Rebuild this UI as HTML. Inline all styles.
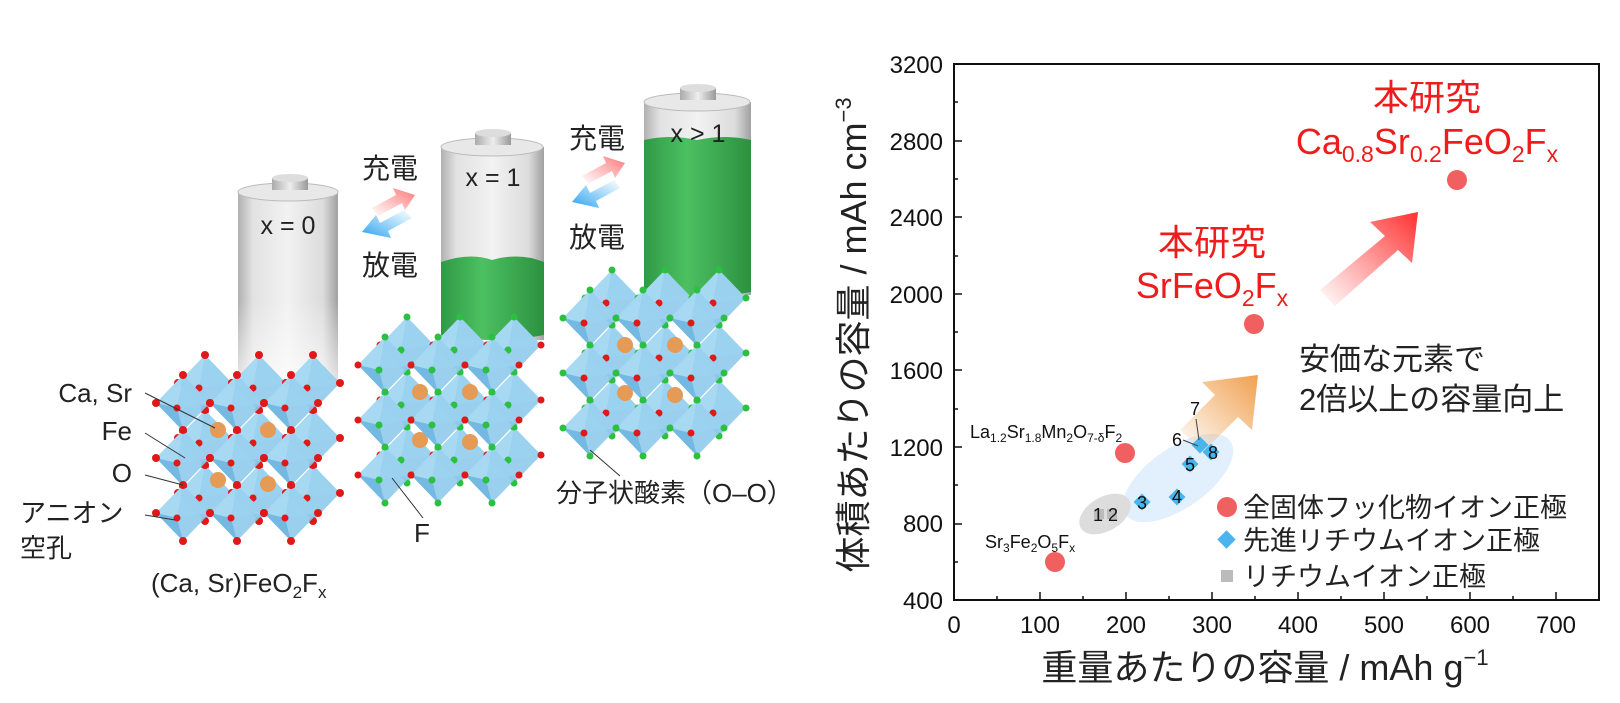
<!DOCTYPE html>
<html><head><meta charset="utf-8">
<style>
body{margin:0;background:#fff;}
svg{display:block;}
text{font-family:"Liberation Sans","Noto Sans CJK JP",sans-serif;}
</style></head>
<body>
<svg width="1620" height="703" viewBox="0 0 1620 703" xmlns="http://www.w3.org/2000/svg">
<defs>
<linearGradient id="bat" x1="0" x2="1" y1="0" y2="0">
<stop offset="0" stop-color="#b0b0b0"/><stop offset="0.15" stop-color="#e2e2e2"/><stop offset="0.5" stop-color="#f2f2f2"/><stop offset="0.85" stop-color="#dcdcdc"/><stop offset="1" stop-color="#a0a0a0"/>
</linearGradient>
<linearGradient id="batfade" x1="0" x2="0" y1="0" y2="1">
<stop offset="0" stop-color="#fff" stop-opacity="0"/><stop offset="1" stop-color="#fff" stop-opacity="0.7"/>
</linearGradient>
<linearGradient id="grn" x1="0" x2="1" y1="0" y2="0">
<stop offset="0" stop-color="#2f9a45"/><stop offset="0.4" stop-color="#4cc061"/><stop offset="1" stop-color="#2c9140"/>
</linearGradient>
<linearGradient id="capg" x1="0" x2="1"><stop offset="0" stop-color="#aaa"/><stop offset="0.5" stop-color="#eee"/><stop offset="1" stop-color="#999"/></linearGradient>
<linearGradient id="redA" x1="0" y1="1" x2="1" y2="0"><stop offset="0" stop-color="#ff4040" stop-opacity="0"/><stop offset="1" stop-color="#ff3030"/></linearGradient>
<linearGradient id="oraA" x1="1" y1="0" x2="0" y2="1"><stop offset="0" stop-color="#f0a050"/><stop offset="1" stop-color="#f0a050" stop-opacity="0"/></linearGradient>
<linearGradient id="pinkA" x1="0" y1="1" x2="1" y2="0"><stop offset="0" stop-color="#ff8080" stop-opacity="0"/><stop offset="1" stop-color="#f77"/></linearGradient>
<linearGradient id="blueA" x1="1" y1="0" x2="0" y2="1"><stop offset="0" stop-color="#3ab0f0" stop-opacity="0"/><stop offset="1" stop-color="#2aa0f0"/></linearGradient>
<g id="oct">
<polygon points="0,-28 27,0 0,28 -27,0" fill="#8fcbec" opacity="0.9"/>
<polygon points="0,-28 -6,5 -27,0" fill="#a9d9f3" opacity="0.9"/>
<polygon points="-6,5 0,28 -27,0" fill="#6fb6e0" opacity="0.9"/>
<polygon points="0,-28 27,0 -6,5" fill="#9bd1ef" opacity="0.9"/>
</g>
<g id="dR"><circle cx="0" cy="-28" r="4" fill="#e01818"/><circle cx="27" cy="0" r="4" fill="#e01818"/><circle cx="0" cy="28" r="4" fill="#e01818"/><circle cx="-27" cy="0" r="4" fill="#e01818"/><circle cx="-6" cy="5" r="3.5" fill="#e01818"/></g>
<g id="dG"><circle cx="0" cy="-28" r="3.5" fill="#2bc040"/><circle cx="27" cy="0" r="3.5" fill="#e01818"/><circle cx="0" cy="28" r="3.5" fill="#2bc040"/><circle cx="-27" cy="0" r="3.5" fill="#e01818"/><circle cx="-6" cy="5" r="3.5" fill="#2bc040"/></g>
<g id="dGG"><circle cx="0" cy="-28" r="3.5" fill="#2bc040"/><circle cx="27" cy="0" r="3.5" fill="#2bc040"/><circle cx="0" cy="28" r="3.5" fill="#2bc040"/><circle cx="-27" cy="0" r="3.5" fill="#2bc040"/><circle cx="-6" cy="5" r="3.5" fill="#e01818"/></g>
<g id="cR"><use href="#oct"/><use href="#dR"/></g>
<g id="cG"><use href="#oct"/><use href="#dG"/></g>
<g id="cGG"><use href="#oct"/><use href="#dGG"/></g>
</defs>

<!-- Battery 1 -->
<g>
<rect x="238" y="192" width="100" height="188" fill="url(#bat)"/>
<rect x="238" y="300" width="100" height="82" fill="url(#batfade)"/>
<ellipse cx="288" cy="192" rx="50" ry="9" fill="#e8e8e8" stroke="#bbb"/>
<rect x="272" y="178" width="36" height="12" fill="url(#capg)"/>
<ellipse cx="290" cy="178" rx="18" ry="4" fill="#ddd"/>
<text x="288" y="234" font-size="25" text-anchor="middle" fill="#222">x = 0</text>
</g>
<!-- Battery 2 -->
<g>
<rect x="441" y="147" width="103" height="193" fill="url(#bat)"/>
<path d="M441 262 Q470 252 492 260 Q520 252 544 262 L544 335 Q492 345 441 335Z" fill="url(#grn)"/>
<ellipse cx="492" cy="147" rx="51" ry="9" fill="#e8e8e8" stroke="#bbb"/>
<rect x="475" y="133" width="36" height="12" fill="url(#capg)"/>
<ellipse cx="493" cy="133" rx="18" ry="4" fill="#ddd"/>
<text x="493" y="186" font-size="25" text-anchor="middle" fill="#222">x = 1</text>
</g>
<!-- Battery 3 -->
<g>
<rect x="644" y="102" width="107" height="193" fill="url(#bat)"/>
<path d="M644 140 Q670 134 697 140 Q725 134 751 140 L751 292 Q697 302 644 292Z" fill="url(#grn)"/>
<ellipse cx="697" cy="102" rx="53" ry="9" fill="#e8e8e8" stroke="#bbb"/>
<rect x="680" y="88" width="36" height="12" fill="url(#capg)"/>
<ellipse cx="698" cy="88" rx="18" ry="4" fill="#ddd"/>
<text x="698" y="142" font-size="25" text-anchor="middle" fill="#222">x &gt; 1</text>
</g>

<!-- charge/discharge arrows -->
<g font-size="28" fill="#222">
<text x="362" y="178">充電</text>
<text x="362" y="275">放電</text>
<text x="569" y="148">充電</text>
<text x="569" y="247">放電</text>
</g>
<polygon points="372,208 396,195 393,188 415,195 405,210 402,203 378,216" fill="url(#pinkA)"/>
<polygon points="412,218 388,231 391,238 362,232 376,215 380,223 404,210" fill="url(#blueA)"/>
<polygon points="582,176 606,163 603,156 625,163 615,178 612,171 588,184" fill="url(#pinkA)"/>
<polygon points="620,188 596,201 599,208 572,202 586,185 590,193 614,180" fill="url(#blueA)"/>

<!-- Crystal 1 -->
<g>
<use href="#cR" x="205" y="383"/><use href="#cR" x="259" y="383"/><use href="#cR" x="313" y="383"/>
<use href="#cR" x="205" y="438"/><use href="#cR" x="259" y="438"/><use href="#cR" x="313" y="438"/>
<use href="#cR" x="205" y="493"/><use href="#cR" x="259" y="493"/><use href="#cR" x="313" y="493"/>
<circle cx="218" cy="430" r="8" fill="#e59a55"/><circle cx="268" cy="430" r="8" fill="#e59a55"/>
<circle cx="218" cy="480" r="8" fill="#e59a55"/><circle cx="268" cy="484" r="8" fill="#e59a55"/>
<use href="#cR" x="183" y="403"/><use href="#cR" x="237" y="403"/><use href="#cR" x="291" y="403"/>
<use href="#cR" x="183" y="458"/><use href="#cR" x="237" y="458"/><use href="#cR" x="291" y="458"/>
<use href="#cR" x="183" y="513"/><use href="#cR" x="237" y="513"/><use href="#cR" x="291" y="513"/>
</g>
<!-- Crystal 2 -->
<g>
<use href="#cG" x="407" y="345"/><use href="#cG" x="460" y="345"/><use href="#cG" x="514" y="345"/>
<use href="#cG" x="407" y="400"/><use href="#cG" x="460" y="400"/><use href="#cG" x="514" y="400"/>
<use href="#cG" x="407" y="455"/><use href="#cG" x="460" y="455"/><use href="#cG" x="514" y="455"/>
<circle cx="420" cy="392" r="8" fill="#e59a55"/><circle cx="470" cy="392" r="8" fill="#e59a55"/>
<circle cx="420" cy="440" r="8" fill="#e59a55"/><circle cx="470" cy="442" r="8" fill="#e59a55"/>
<use href="#cG" x="385" y="365"/><use href="#cG" x="438" y="365"/><use href="#cG" x="492" y="365"/>
<use href="#cG" x="385" y="420"/><use href="#cG" x="438" y="420"/><use href="#cG" x="492" y="420"/>
<use href="#cG" x="385" y="475"/><use href="#cG" x="438" y="475"/><use href="#cG" x="492" y="475"/>
</g>
<!-- Crystal 3 -->
<g>
<use href="#cGG" x="612" y="298"/><use href="#cGG" x="665" y="298"/><use href="#cGG" x="719" y="298"/>
<use href="#cGG" x="612" y="353"/><use href="#cGG" x="665" y="353"/><use href="#cGG" x="719" y="353"/>
<use href="#cGG" x="612" y="408"/><use href="#cGG" x="665" y="408"/><use href="#cGG" x="719" y="408"/>
<circle cx="625" cy="345" r="8" fill="#e59a55"/><circle cx="675" cy="345" r="8" fill="#e59a55"/>
<circle cx="625" cy="393" r="8" fill="#e59a55"/><circle cx="675" cy="395" r="8" fill="#e59a55"/>
<use href="#cGG" x="590" y="318"/><use href="#cGG" x="643" y="318"/><use href="#cGG" x="697" y="318"/>
<use href="#cGG" x="590" y="373"/><use href="#cGG" x="643" y="373"/><use href="#cGG" x="697" y="373"/>
<use href="#cGG" x="590" y="428"/><use href="#cGG" x="643" y="428"/><use href="#cGG" x="697" y="428"/>
</g>

<!-- left labels -->
<g font-size="26" fill="#222">
<text x="132" y="402" text-anchor="end">Ca, Sr</text>
<text x="132" y="440" text-anchor="end">Fe</text>
<text x="132" y="482" text-anchor="end">O</text>
<text x="20" y="522">アニオン</text>
<text x="20" y="557">空孔</text>
<text x="151" y="592">(Ca, Sr)FeO<tspan font-size="17" dy="6">2</tspan><tspan dy="-6">F</tspan><tspan font-size="17" dy="6">x</tspan></text>
<text x="414" y="542">F</text>
<text x="556" y="502">分子状酸素（O–O）</text>
</g>
<g stroke="#333" stroke-width="1" fill="none">
<line x1="145" y1="393" x2="215" y2="428"/>
<line x1="145" y1="433" x2="185" y2="458"/>
<line x1="145" y1="475" x2="183" y2="485"/>
<line x1="145" y1="515" x2="175" y2="520"/>
<line x1="423" y1="518" x2="392" y2="478"/>
<line x1="620" y1="476" x2="590" y2="450"/>
</g>

<!-- Chart -->
<rect x="954" y="64" width="645" height="536" fill="none" stroke="#111" stroke-width="2"/>
<g stroke="#111" stroke-width="1.5">
<line x1="1040" y1="600" x2="1040" y2="592"/><line x1="1126" y1="600" x2="1126" y2="592"/><line x1="1212" y1="600" x2="1212" y2="592"/><line x1="1298" y1="600" x2="1298" y2="592"/><line x1="1384" y1="600" x2="1384" y2="592"/><line x1="1470" y1="600" x2="1470" y2="592"/><line x1="1556" y1="600" x2="1556" y2="592"/>
<line x1="997" y1="600" x2="997" y2="596"/><line x1="1083" y1="600" x2="1083" y2="596"/><line x1="1169" y1="600" x2="1169" y2="596"/><line x1="1255" y1="600" x2="1255" y2="596"/><line x1="1341" y1="600" x2="1341" y2="596"/><line x1="1427" y1="600" x2="1427" y2="596"/><line x1="1513" y1="600" x2="1513" y2="596"/>
<line x1="954" y1="524" x2="962" y2="524"/><line x1="954" y1="447" x2="962" y2="447"/><line x1="954" y1="370" x2="962" y2="370"/><line x1="954" y1="294" x2="962" y2="294"/><line x1="954" y1="217" x2="962" y2="217"/><line x1="954" y1="141" x2="962" y2="141"/>
<line x1="954" y1="562" x2="958" y2="562"/><line x1="954" y1="485" x2="958" y2="485"/><line x1="954" y1="409" x2="958" y2="409"/><line x1="954" y1="332" x2="958" y2="332"/><line x1="954" y1="256" x2="958" y2="256"/><line x1="954" y1="179" x2="958" y2="179"/><line x1="954" y1="102" x2="958" y2="102"/>
</g>
<g font-size="24" fill="#111">
<g text-anchor="middle">
<text x="954" y="633">0</text><text x="1040" y="633">100</text><text x="1126" y="633">200</text><text x="1212" y="633">300</text><text x="1298" y="633">400</text><text x="1384" y="633">500</text><text x="1470" y="633">600</text><text x="1556" y="633">700</text>
</g>
<g text-anchor="end">
<text x="943" y="609">400</text><text x="943" y="532">800</text><text x="943" y="456">1200</text><text x="943" y="379">1600</text><text x="943" y="303">2000</text><text x="943" y="226">2400</text><text x="943" y="150">2800</text><text x="943" y="73">3200</text>
</g>
</g>
<text x="1265" y="680" font-size="36" text-anchor="middle" fill="#222">重量あたりの容量  / mAh g<tspan font-size="22" dy="-15">−1</tspan></text>
<text transform="translate(866,335) rotate(-90)" font-size="36" text-anchor="middle" fill="#222">体積あたりの容量  / mAh cm<tspan font-size="22" dy="-15">−3</tspan></text>

<!-- ellipses -->
<ellipse cx="1178" cy="478" rx="64" ry="30" transform="rotate(-35 1178 478)" fill="#d6eafc" opacity="0.7"/>
<ellipse cx="1105" cy="514" rx="28" ry="17" transform="rotate(-30 1105 514)" fill="#ddd"/>
<!-- arrows -->
<polygon points="1180,430 1215,395 1202,382 1258,375 1252,430 1238,417 1203,452" fill="url(#oraA)"/>
<polygon points="1320,290 1385,236 1370,222 1418,212 1412,263 1398,250 1335,306" fill="url(#redA)"/>

<!-- points -->
<g fill="#f06060">
<circle cx="1055" cy="562" r="10"/><circle cx="1125" cy="453" r="10"/><circle cx="1254" cy="324" r="10"/><circle cx="1457" cy="180" r="10"/>
</g>
<g fill="#bbb"><rect x="1094" y="509" width="10" height="10"/><rect x="1107" y="509" width="10" height="10"/></g>
<g fill="#4cb4ec">
<rect x="1136" y="496" width="12" height="12" transform="rotate(45 1142 502)"/>
<rect x="1171" y="491" width="12" height="12" transform="rotate(45 1177 497)"/>
<rect x="1184" y="458" width="12" height="12" transform="rotate(45 1190 464)"/>
<rect x="1205" y="446" width="12" height="12" transform="rotate(45 1211 452)"/>
<rect x="1194" y="439" width="12" height="12" transform="rotate(45 1200 445)"/>
</g>
<g font-size="18" fill="#111" text-anchor="middle">
<text x="1098" y="521">1</text><text x="1113" y="521">2</text>
<text x="1142" y="509">3</text><text x="1177" y="503">4</text><text x="1190" y="471">5</text><text x="1213" y="459">8</text>
<text x="1177" y="446">6</text><text x="1195" y="415">7</text>
</g>
<g stroke="#444" stroke-width="1"><line x1="1183" y1="440" x2="1198" y2="446"/><line x1="1196" y1="419" x2="1199" y2="440"/></g>
<g font-size="18" fill="#111">
<text x="970" y="438">La<tspan font-size="12" dy="4">1.2</tspan><tspan dy="-4">Sr</tspan><tspan font-size="12" dy="4">1.8</tspan><tspan dy="-4">Mn</tspan><tspan font-size="12" dy="4">2</tspan><tspan dy="-4">O</tspan><tspan font-size="12" dy="4">7-δ</tspan><tspan dy="-4">F</tspan><tspan font-size="12" dy="4">2</tspan></text>
<text x="985" y="548">Sr<tspan font-size="12" dy="4">3</tspan><tspan dy="-4">Fe</tspan><tspan font-size="12" dy="4">2</tspan><tspan dy="-4">O</tspan><tspan font-size="12" dy="4">5</tspan><tspan dy="-4">F</tspan><tspan font-size="12" dy="4">x</tspan></text>
</g>
<!-- red labels -->
<g fill="#ee1c1c" text-anchor="middle" font-size="36">
<text x="1427" y="110">本研究</text>
<text x="1427" y="154">Ca<tspan font-size="23" dy="8">0.8</tspan><tspan dy="-8">Sr</tspan><tspan font-size="23" dy="8">0.2</tspan><tspan dy="-8">FeO</tspan><tspan font-size="23" dy="8">2</tspan><tspan dy="-8">F</tspan><tspan font-size="23" dy="8">x</tspan></text>
<text x="1212" y="255">本研究</text>
<text x="1212" y="298">SrFeO<tspan font-size="23" dy="8">2</tspan><tspan dy="-8">F</tspan><tspan font-size="23" dy="8">x</tspan></text>
</g>
<g font-size="31" fill="#222">
<text x="1299" y="370">安価な元素で</text>
<text x="1299" y="410">2倍以上の容量向上</text>
</g>
<!-- legend -->
<circle cx="1227" cy="507" r="10" fill="#f06060"/>
<rect x="1220" y="533" width="13" height="13" transform="rotate(45 1226.5 539.5)" fill="#4cb4ec"/>
<rect x="1221" y="570" width="12" height="12" fill="#bbb"/>
<g font-size="27" fill="#222">
<text x="1243" y="517">全固体フッ化物イオン正極</text>
<text x="1243" y="550">先進リチウムイオン正極</text>
<text x="1243" y="586">リチウムイオン正極</text>
</g>
</svg>
</body></html>
